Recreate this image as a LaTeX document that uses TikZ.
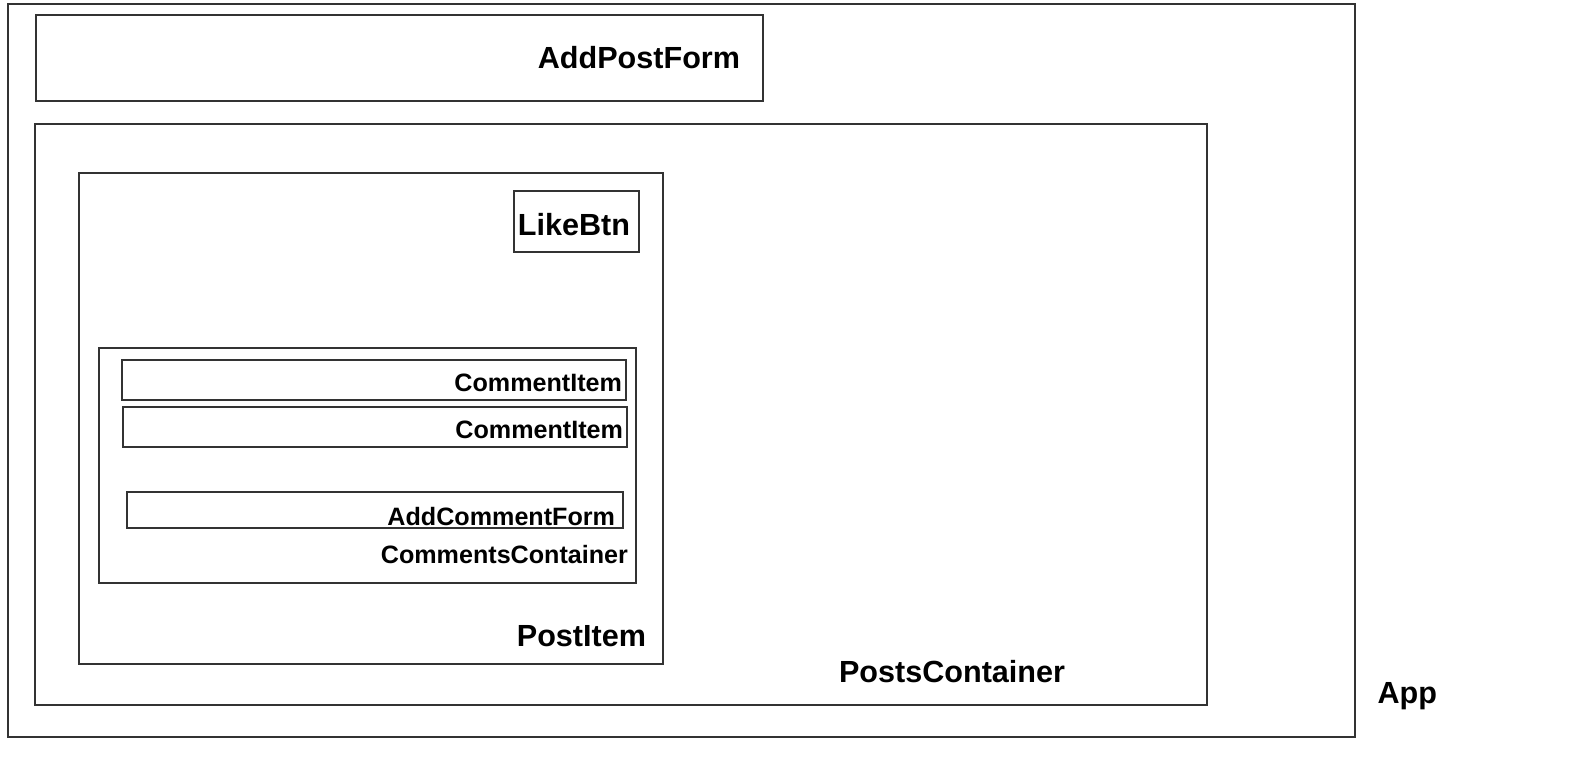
\documentclass[tikz,border=0pt]{standalone}
\usepackage{fontspec}
\setmainfont{Liberation Sans}
\newlength\px
\setlength\px{0.02cm}
\begin{document}
\begin{tikzpicture}
[x=0.02cm,y=-0.02cm,inner sep=0pt,outer sep=0pt,
box/.style={draw=black!80,line width=0.8pt,rectangle},
biglabel/.style={anchor=base east,font=\bfseries\fontsize{17.4}{20}\selectfont},
smalllabel/.style={anchor=base east,font=\bfseries\fontsize{14.3}{17}\selectfont}]
\useasboundingbox (0,0) rectangle (1579,781);
\node[box,minimum width=1347\px,minimum height=733\px] (app) at (681.5,370.5) {};
\node[box,minimum width=727\px,minimum height=86\px] (addpost) at (399.5,58) {};
\node[box,minimum width=1172\px,minimum height=581\px] (posts) at (621,414.5) {};
\node[box,minimum width=584\px,minimum height=491\px] (postitem) at (371,418.5) {};
\node[box,minimum width=125\px,minimum height=61\px] (likebtn) at (576.5,221.5) {};
\node[box,minimum width=537\px,minimum height=235\px] (comments) at (367.5,465.5) {};
\node[box,minimum width=504\px,minimum height=40\px] (comment1) at (374,380) {};
\node[box,minimum width=504\px,minimum height=40\px] (comment2) at (375,427) {};
\node[box,minimum width=496\px,minimum height=36\px] (addcomment) at (375,510) {};

\node[biglabel] (applabel) at (1437,703) {App};
\node[biglabel] (addpostlabel) at (740,68) {AddPostForm};
\node[biglabel] (postslabel) at (1065,682) {PostsContainer};
\node[biglabel] (postitemlabel) at (646,646) {PostItem};
\node[biglabel] (likebtnlabel) at (630,235) {LikeBtn};
\node[smalllabel] (commentslabel) at (628,563) {CommentsContainer};
\node[smalllabel] (comment1label) at (622,391) {CommentItem};
\node[smalllabel] (comment2label) at (623,438) {CommentItem};
\node[smalllabel] (addcommentlabel) at (615,525) {AddCommentForm};
\end{tikzpicture}
\end{document}
